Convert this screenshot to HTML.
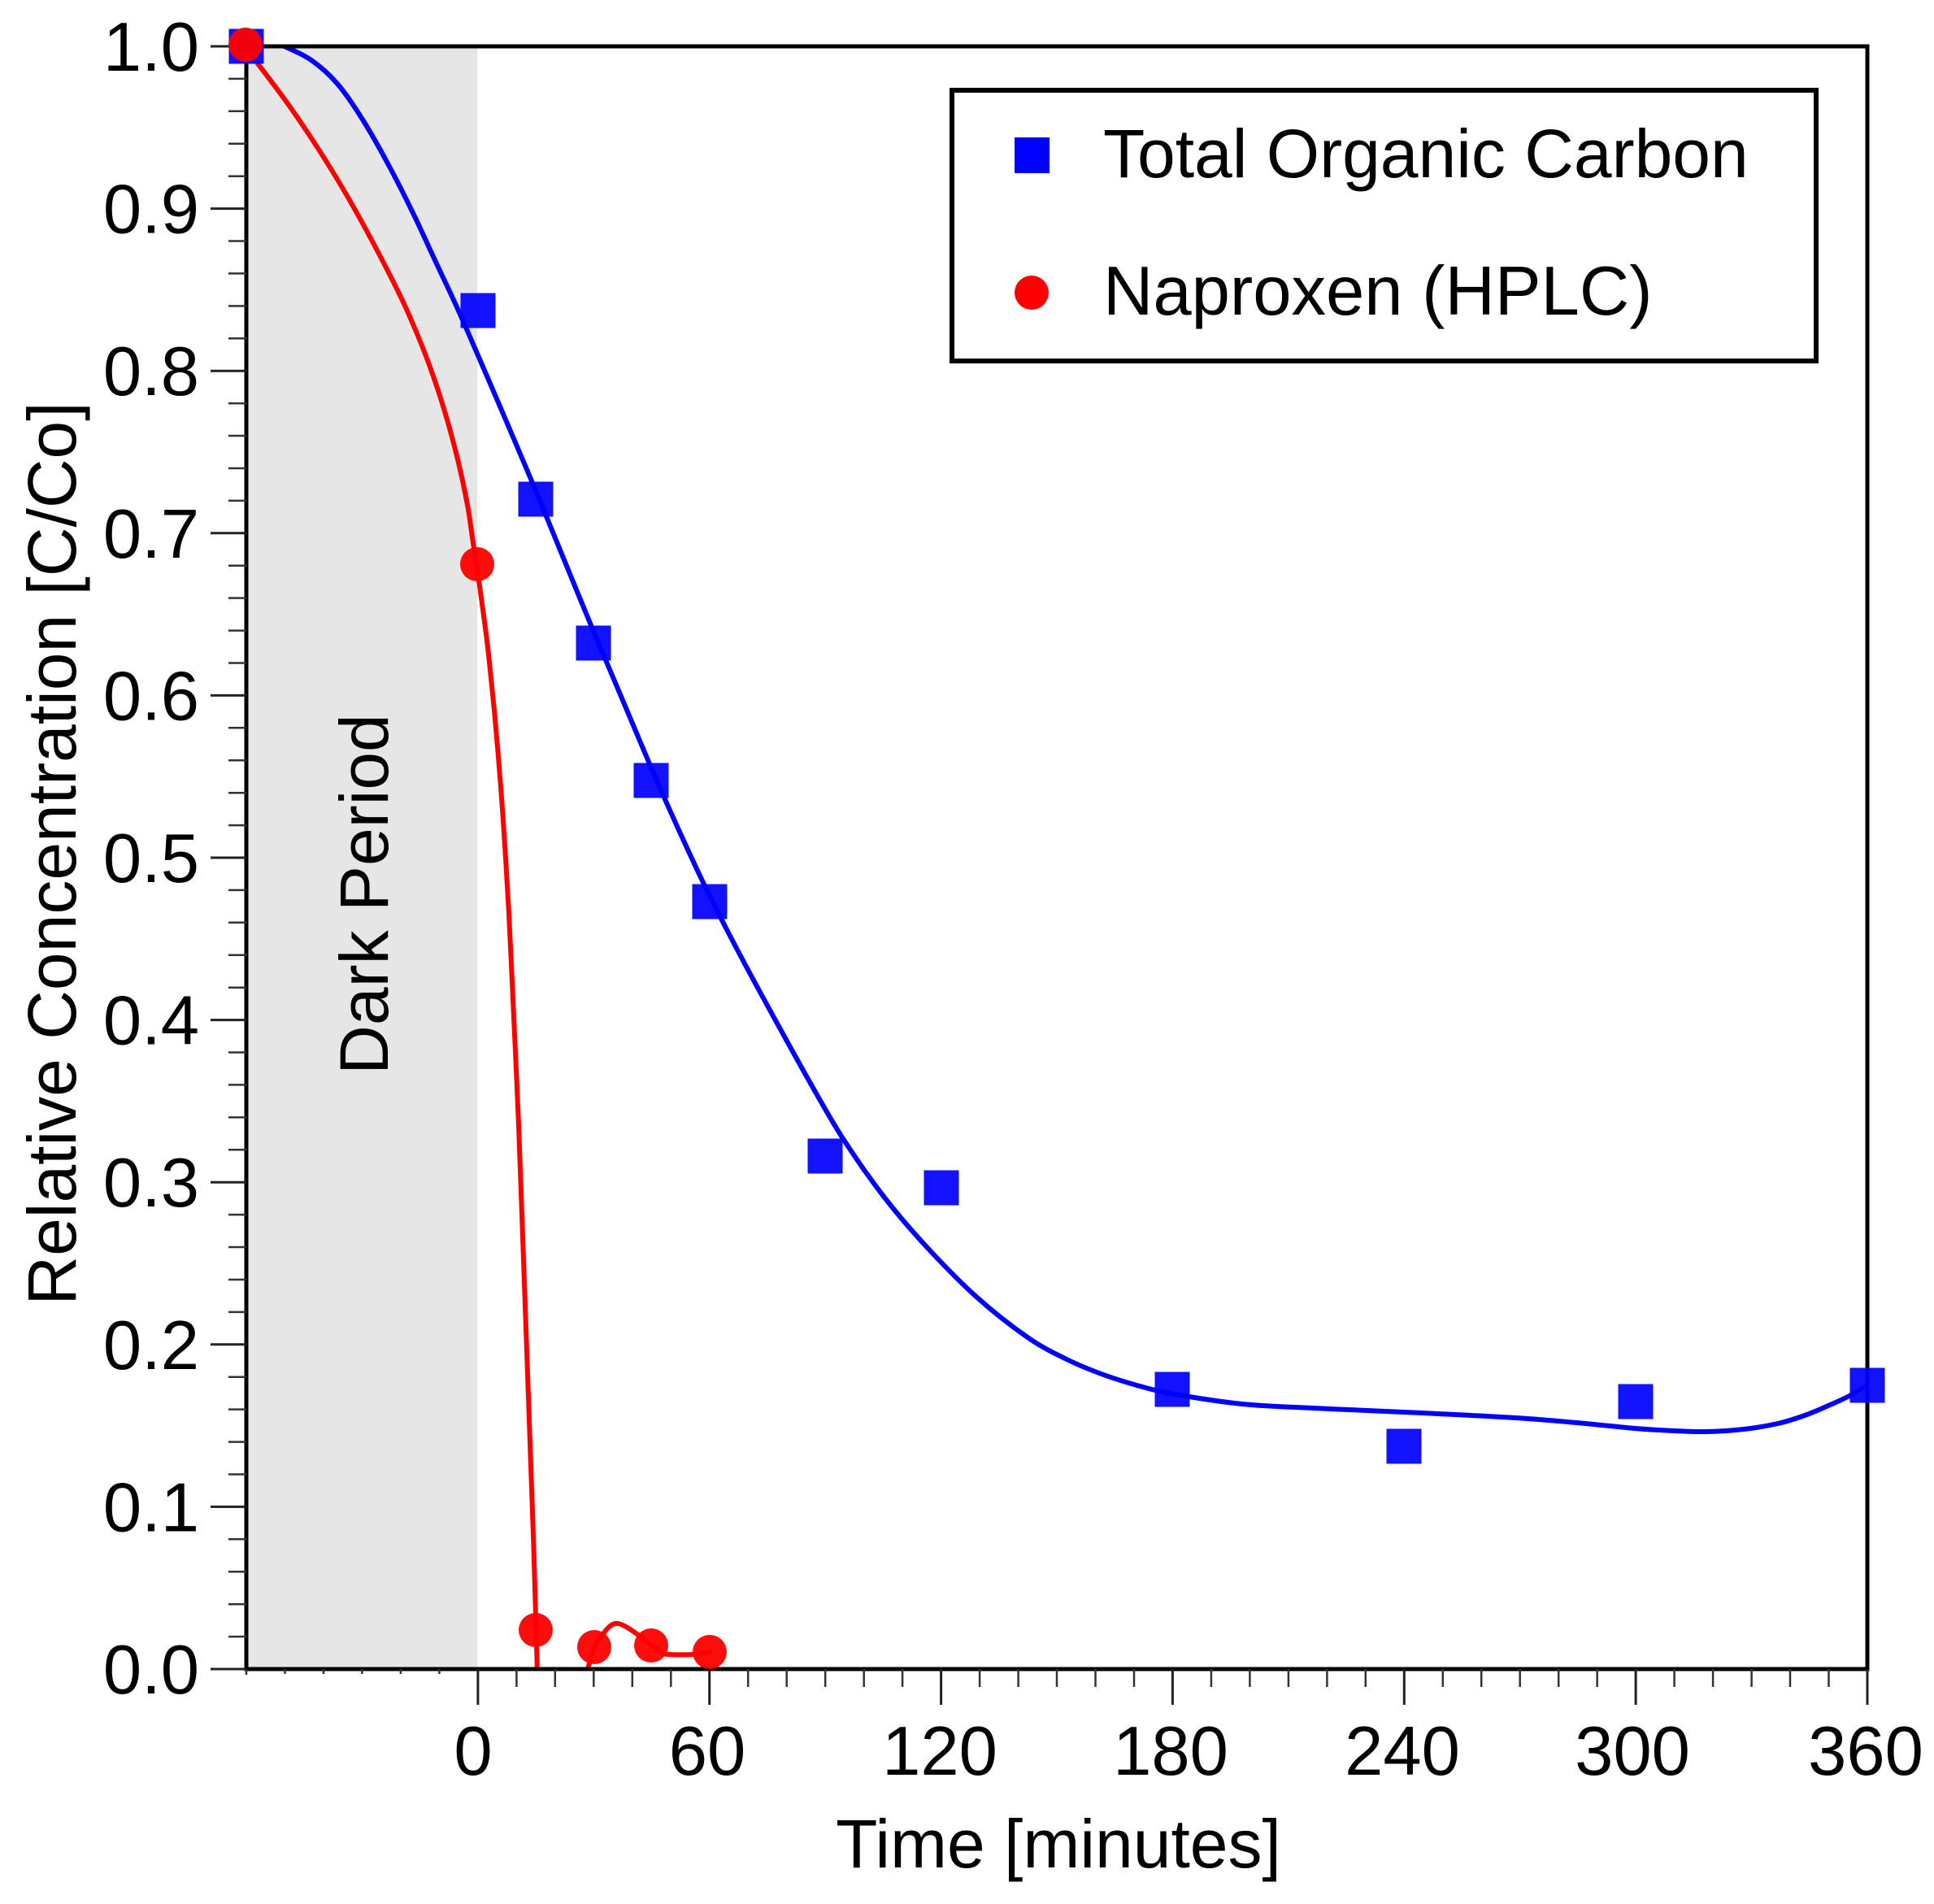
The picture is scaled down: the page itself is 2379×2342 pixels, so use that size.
<!DOCTYPE html>
<html>
<head>
<meta charset="utf-8">
<style>
html,body{margin:0;padding:0;background:#fff;}
svg{display:block;}
text{font-family:"Liberation Sans",Arial,sans-serif;fill:#000;}
</style>
</head>
<body>
<svg width="2379" height="2342" viewBox="0 0 2379 2342" xmlns="http://www.w3.org/2000/svg">
<defs>
<clipPath id="plot"><rect x="303" y="57" width="1994" height="1996"/></clipPath>
</defs>
<rect x="0" y="0" width="2379" height="2342" fill="#fff"/>
<!-- dark period shading -->
<rect x="303" y="57" width="284" height="1996" fill="#e6e6e6"/>
<text transform="translate(477,1100) rotate(-90)" text-anchor="middle" font-size="84">Dark Period</text>

<!-- curves -->
<g clip-path="url(#plot)" fill="none" stroke-linejoin="round" stroke-linecap="round" stroke-width="6">
<path id="blueCurve" stroke="#0000ff" d="M330,48 L350,57 L383,74 L415,103 L446,147 L478,203 L508,262 L535,320 L563,380 L597,458 L630,535 L660,606 L690,679 L728.6,773 L765,859 L800,942 L835,1021 L871,1098 L910,1174 L952,1251.5 L995,1329 L1036.6,1400 L1088,1473 L1141,1535 L1202,1596 L1264,1645 L1310,1671 L1352,1689 L1395,1703 L1440,1714 L1528,1727 L1615,1732 L1704,1736 L1790,1740 L1879,1745 L1950,1751 L2011,1757 L2060,1760 L2099,1761 L2145,1758 L2187,1751 L2220,1741 L2249,1729 L2275,1717 L2297,1704"/>
<path id="redCurve1" stroke="#ff0000" d="M303,60 L310,69 L350,122 L383,170 L417,224 L450,282 L483,345 L503,387 L527,446 L547,506 L563,565 L575,621 L582,668 L587,700 L594,750 L601,805 L608.6,880 L615.7,964 L621,1040 L626,1124 L632,1251 L637.8,1379 L644,1550 L650.4,1730 L656.4,1900 L659.5,2005 L661,2060"/>
<path id="redCurve2" stroke="#ff0000" d="M715,2080 L723,2053 L731,2026 L744,2007 L752,1999 L760,1997 L770,2001 L785,2011 L801,2024 L812,2031 L822,2035 L856,2035 L866,2033 L873,2032"/>
</g>

<!-- axes frame -->
<rect x="303" y="57" width="1994" height="1996" fill="none" stroke="#000" stroke-width="5"/>

<!-- y ticks -->
<g stroke="#222" stroke-width="3">
<line x1="259" y1="57" x2="303" y2="57"/>
<line x1="259" y1="256.6" x2="303" y2="256.6"/>
<line x1="259" y1="456.2" x2="303" y2="456.2"/>
<line x1="259" y1="655.8" x2="303" y2="655.8"/>
<line x1="259" y1="855.4" x2="303" y2="855.4"/>
<line x1="259" y1="1055" x2="303" y2="1055"/>
<line x1="259" y1="1254.6" x2="303" y2="1254.6"/>
<line x1="259" y1="1454.2" x2="303" y2="1454.2"/>
<line x1="259" y1="1653.8" x2="303" y2="1653.8"/>
<line x1="259" y1="1853.4" x2="303" y2="1853.4"/>
<line x1="259" y1="2053" x2="303" y2="2053"/>
</g>
<g stroke="#333" stroke-width="2.5">
<line x1="281" y1="96.9" x2="303" y2="96.9"/><line x1="281" y1="136.8" x2="303" y2="136.8"/><line x1="281" y1="176.8" x2="303" y2="176.8"/><line x1="281" y1="216.7" x2="303" y2="216.7"/>
<line x1="281" y1="296.5" x2="303" y2="296.5"/><line x1="281" y1="336.4" x2="303" y2="336.4"/><line x1="281" y1="376.4" x2="303" y2="376.4"/><line x1="281" y1="416.3" x2="303" y2="416.3"/>
<line x1="281" y1="496.1" x2="303" y2="496.1"/><line x1="281" y1="536" x2="303" y2="536"/><line x1="281" y1="576" x2="303" y2="576"/><line x1="281" y1="615.9" x2="303" y2="615.9"/>
<line x1="281" y1="695.7" x2="303" y2="695.7"/><line x1="281" y1="735.6" x2="303" y2="735.6"/><line x1="281" y1="775.6" x2="303" y2="775.6"/><line x1="281" y1="815.5" x2="303" y2="815.5"/>
<line x1="281" y1="895.3" x2="303" y2="895.3"/><line x1="281" y1="935.2" x2="303" y2="935.2"/><line x1="281" y1="975.2" x2="303" y2="975.2"/><line x1="281" y1="1015.1" x2="303" y2="1015.1"/>
<line x1="281" y1="1094.9" x2="303" y2="1094.9"/><line x1="281" y1="1134.8" x2="303" y2="1134.8"/><line x1="281" y1="1174.8" x2="303" y2="1174.8"/><line x1="281" y1="1214.7" x2="303" y2="1214.7"/>
<line x1="281" y1="1294.5" x2="303" y2="1294.5"/><line x1="281" y1="1334.4" x2="303" y2="1334.4"/><line x1="281" y1="1374.4" x2="303" y2="1374.4"/><line x1="281" y1="1414.3" x2="303" y2="1414.3"/>
<line x1="281" y1="1494.1" x2="303" y2="1494.1"/><line x1="281" y1="1534" x2="303" y2="1534"/><line x1="281" y1="1574" x2="303" y2="1574"/><line x1="281" y1="1613.9" x2="303" y2="1613.9"/>
<line x1="281" y1="1693.7" x2="303" y2="1693.7"/><line x1="281" y1="1733.6" x2="303" y2="1733.6"/><line x1="281" y1="1773.6" x2="303" y2="1773.6"/><line x1="281" y1="1813.5" x2="303" y2="1813.5"/>
<line x1="281" y1="1893.3" x2="303" y2="1893.3"/><line x1="281" y1="1933.2" x2="303" y2="1933.2"/><line x1="281" y1="1973.2" x2="303" y2="1973.2"/><line x1="281" y1="2013.1" x2="303" y2="2013.1"/>
</g>

<!-- x ticks -->
<g stroke="#222" stroke-width="3">
<line x1="587.9" y1="2053" x2="587.9" y2="2097"/>
<line x1="872.7" y1="2053" x2="872.7" y2="2097"/>
<line x1="1157.6" y1="2053" x2="1157.6" y2="2097"/>
<line x1="1442.4" y1="2053" x2="1442.4" y2="2097"/>
<line x1="1727.3" y1="2053" x2="1727.3" y2="2097"/>
<line x1="2012.1" y1="2053" x2="2012.1" y2="2097"/>
<line x1="2297" y1="2053" x2="2297" y2="2097"/>
</g>
<g stroke="#333" stroke-width="2.5">
<line x1="303" y1="2053" x2="303" y2="2060"/>
<line x1="350.5" y1="2053" x2="350.5" y2="2059"/><line x1="398" y1="2053" x2="398" y2="2059"/><line x1="445.4" y1="2053" x2="445.4" y2="2059"/><line x1="492.9" y1="2053" x2="492.9" y2="2059"/><line x1="540.4" y1="2053" x2="540.4" y2="2059"/>
<line x1="635.4" y1="2053" x2="635.4" y2="2075"/><line x1="682.8" y1="2053" x2="682.8" y2="2075"/><line x1="730.3" y1="2053" x2="730.3" y2="2075"/><line x1="777.8" y1="2053" x2="777.8" y2="2075"/><line x1="825.3" y1="2053" x2="825.3" y2="2075"/>
<line x1="920.2" y1="2053" x2="920.2" y2="2075"/><line x1="967.7" y1="2053" x2="967.7" y2="2075"/><line x1="1015.2" y1="2053" x2="1015.2" y2="2075"/><line x1="1062.7" y1="2053" x2="1062.7" y2="2075"/><line x1="1110.1" y1="2053" x2="1110.1" y2="2075"/>
<line x1="1205.1" y1="2053" x2="1205.1" y2="2075"/><line x1="1252.6" y1="2053" x2="1252.6" y2="2075"/><line x1="1300" y1="2053" x2="1300" y2="2075"/><line x1="1347.5" y1="2053" x2="1347.5" y2="2075"/><line x1="1395" y1="2053" x2="1395" y2="2075"/>
<line x1="1489.9" y1="2053" x2="1489.9" y2="2075"/><line x1="1537.4" y1="2053" x2="1537.4" y2="2075"/><line x1="1584.9" y1="2053" x2="1584.9" y2="2075"/><line x1="1632.4" y1="2053" x2="1632.4" y2="2075"/><line x1="1679.8" y1="2053" x2="1679.8" y2="2075"/>
<line x1="1774.8" y1="2053" x2="1774.8" y2="2075"/><line x1="1822.2" y1="2053" x2="1822.2" y2="2075"/><line x1="1869.7" y1="2053" x2="1869.7" y2="2075"/><line x1="1917.2" y1="2053" x2="1917.2" y2="2075"/><line x1="1964.7" y1="2053" x2="1964.7" y2="2075"/>
<line x1="2059.6" y1="2053" x2="2059.6" y2="2075"/><line x1="2107.1" y1="2053" x2="2107.1" y2="2075"/><line x1="2154.6" y1="2053" x2="2154.6" y2="2075"/><line x1="2202" y1="2053" x2="2202" y2="2075"/><line x1="2249.5" y1="2053" x2="2249.5" y2="2075"/>
</g>

<!-- y tick labels -->
<g font-size="85" text-anchor="end">
<text x="245" y="87">1.0</text>
<text x="245" y="286.6">0.9</text>
<text x="245" y="486.2">0.8</text>
<text x="245" y="685.8">0.7</text>
<text x="245" y="885.4">0.6</text>
<text x="245" y="1085">0.5</text>
<text x="245" y="1284.6">0.4</text>
<text x="245" y="1484.2">0.3</text>
<text x="245" y="1683.8">0.2</text>
<text x="245" y="1883.4">0.1</text>
<text x="245" y="2083">0.0</text>
</g>

<!-- x tick labels -->
<g font-size="85" text-anchor="middle">
<text x="582" y="2183">0</text>
<text x="870" y="2183">60</text>
<text x="1156" y="2183">120</text>
<text x="1440" y="2183">180</text>
<text x="1725" y="2183">240</text>
<text x="2008" y="2183">300</text>
<text x="2295" y="2183">360</text>
</g>

<!-- axis titles -->
<text x="1302" y="2297" font-size="84" text-anchor="middle">Time [minutes]</text>
<text transform="translate(93,1050) rotate(-90)" font-size="84" text-anchor="middle">Relative Concentration [C/Co]</text>

<!-- markers -->
<g fill="#0000ff" fill-opacity="0.93">
<rect x="281.5" y="35.5" width="43" height="43"/>
<rect x="566.5" y="360.5" width="43" height="43"/>
<rect x="637.5" y="592.5" width="43" height="43"/>
<rect x="708.5" y="769.5" width="43" height="43"/>
<rect x="779.5" y="938.5" width="43" height="43"/>
<rect x="851.5" y="1087.5" width="43" height="43"/>
<rect x="993.5" y="1400.5" width="43" height="43"/>
<rect x="1136.5" y="1439.5" width="43" height="43"/>
<rect x="1420.5" y="1687.5" width="43" height="43"/>
<rect x="1705.5" y="1757.5" width="43" height="43"/>
<rect x="1990.5" y="1702.5" width="43" height="43"/>
<rect x="2275.5" y="1682.5" width="43" height="43"/>
</g>
<g fill="#ff0000" fill-opacity="0.95">
<circle cx="302" cy="55" r="21"/>
<circle cx="587" cy="694" r="21"/>
<circle cx="659" cy="2005" r="21"/>
<circle cx="731" cy="2026" r="21"/>
<circle cx="801" cy="2024" r="21"/>
<circle cx="873" cy="2032" r="21"/>
</g>

<!-- legend -->
<rect x="1171" y="111" width="1063" height="333" fill="#fff" stroke="#000" stroke-width="6"/>
<rect x="1248" y="169" width="43" height="44" fill="#0000ff"/>
<circle cx="1269" cy="360" r="21" fill="#ff0000"/>
<text x="1357" y="218" font-size="84">Total Organic Carbon</text>
<text x="1357" y="387" font-size="85">Naproxen (HPLC)</text>
</svg>
<script>
(function(){
  function smooth(id){
    var el=document.getElementById(id);
    if(!el) return;
    var d=el.getAttribute('d');
    var nums=d.replace(/[ML]/g,' ').trim().split(/[\s,]+/).map(Number);
    var p=[];
    for(var i=0;i<nums.length;i+=2) p.push([nums[i],nums[i+1]]);
    var out='M'+p[0][0]+','+p[0][1];
    for(var j=0;j<p.length-1;j++){
      var p0=p[j-1]||p[j], p1=p[j], p2=p[j+1], p3=p[j+2]||p[j+1];
      var c1x=p1[0]+(p2[0]-p0[0])/6, c1y=p1[1]+(p2[1]-p0[1])/6;
      var c2x=p2[0]-(p3[0]-p1[0])/6, c2y=p2[1]-(p3[1]-p1[1])/6;
      out+=' C'+c1x.toFixed(2)+','+c1y.toFixed(2)+' '+c2x.toFixed(2)+','+c2y.toFixed(2)+' '+p2[0]+','+p2[1];
    }
    el.setAttribute('d',out);
  }
  smooth('blueCurve');smooth('redCurve1');smooth('redCurve2');
})();
</script>
</body>
</html>
